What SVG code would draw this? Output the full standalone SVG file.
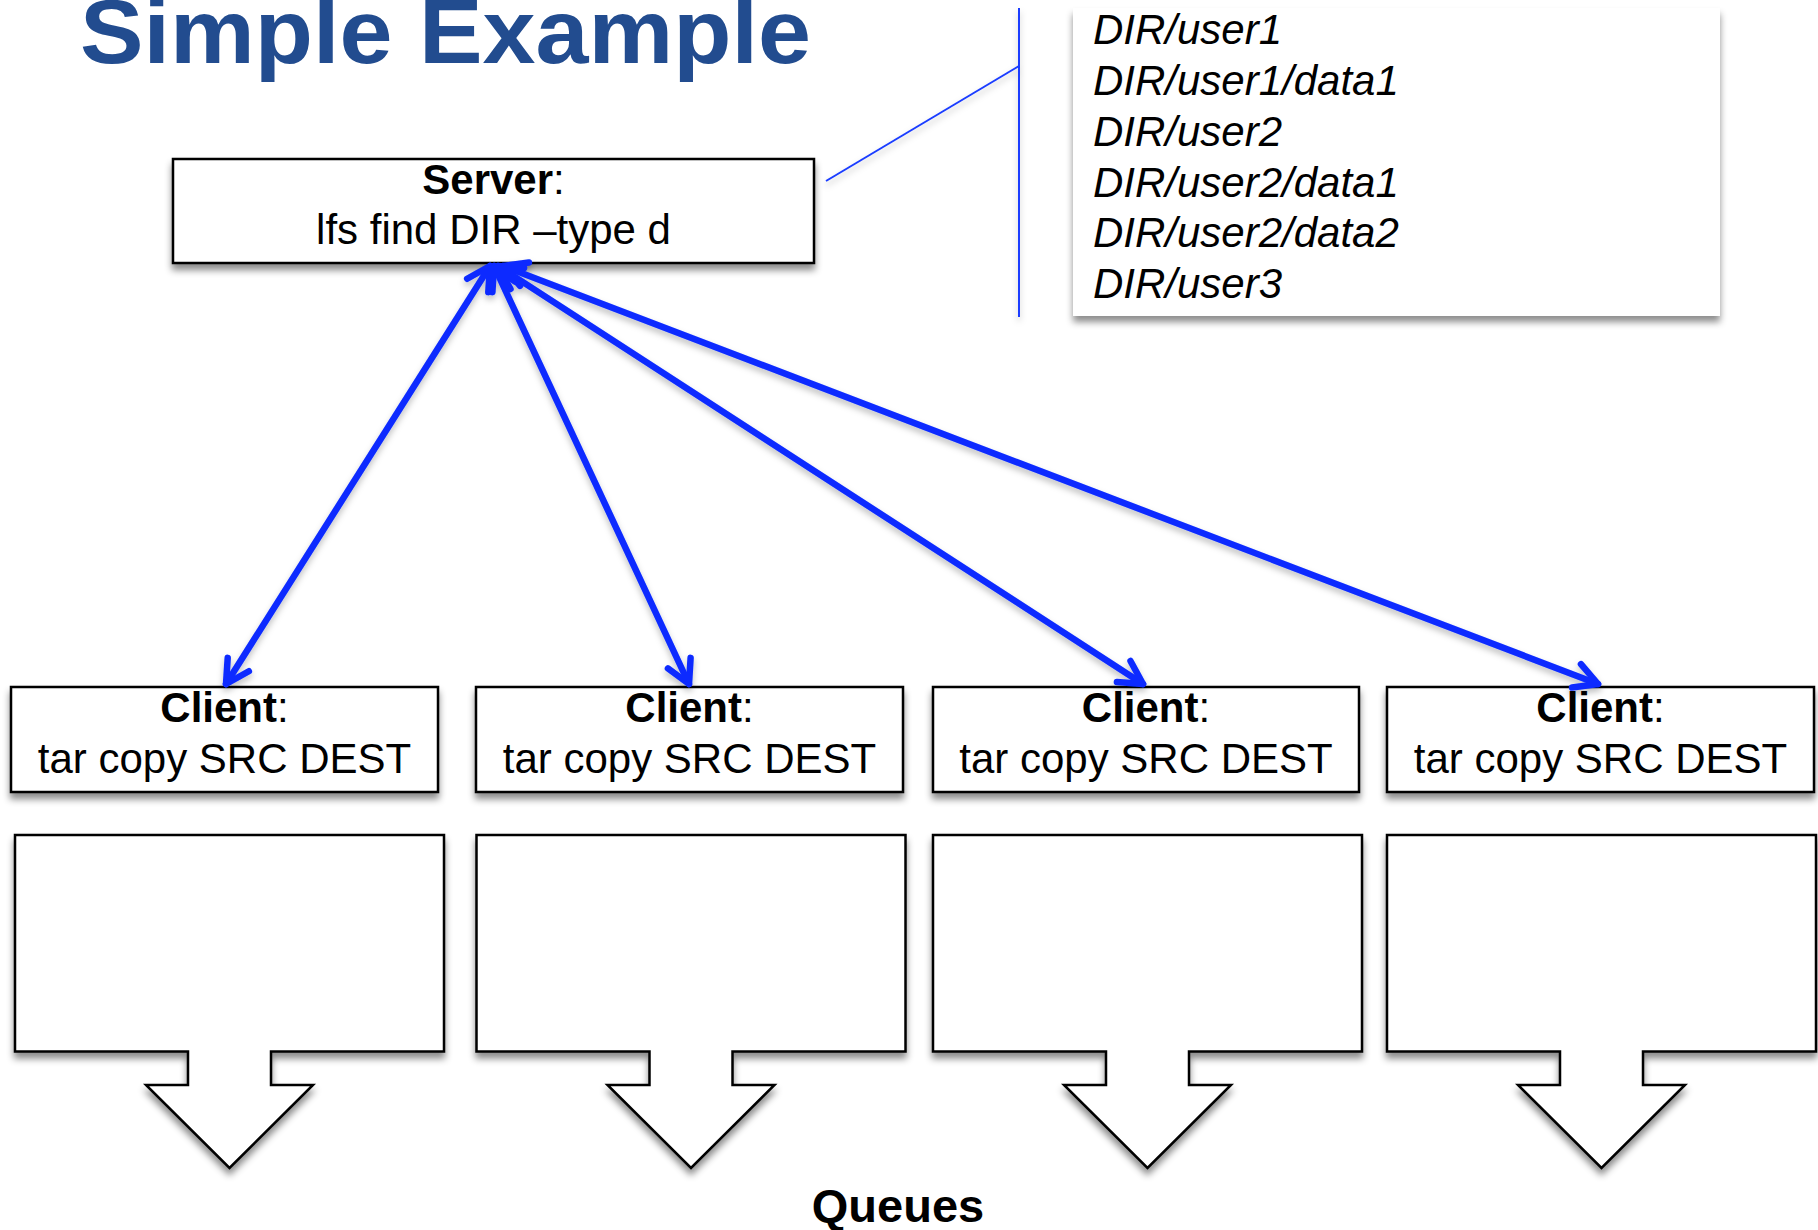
<svg xmlns="http://www.w3.org/2000/svg" width="1818" height="1230" viewBox="0 0 1818 1230">
<defs>
<filter id="sh" x="-10%" y="-10%" width="120%" height="130%">
<feDropShadow dx="0" dy="6" stdDeviation="3.5" flood-color="#000" flood-opacity="0.45"/>
</filter>
<filter id="shl" x="-10%" y="-10%" width="120%" height="130%">
<feDropShadow dx="0" dy="4" stdDeviation="3" flood-color="#000" flood-opacity="0.25"/>
</filter>
<marker id="ah" viewBox="-28 -17 34 34" markerWidth="34" markerHeight="34" refX="0" refY="0" orient="auto-start-reverse" markerUnits="userSpaceOnUse">
<path d="M -23 -12.5 L 0 0 L -23 12.5" fill="none" stroke="#0a2cff" stroke-width="6.5" stroke-linecap="round" stroke-linejoin="round"/>
</marker>
</defs>
<style>
.box{fill:#fff;stroke:#000;stroke-width:2.5;filter:url(#sh)}
.q{fill:#fff;stroke:#000;stroke-width:2.5;stroke-linejoin:miter;filter:url(#sh)}
.t{font-family:"Liberation Sans",Arial,sans-serif;font-size:42px;fill:#000;text-anchor:middle}
.b{font-weight:bold}
.it{font-family:"Liberation Sans",Arial,sans-serif;font-size:42px;font-style:italic;fill:#000}
.arr{stroke:#0a2cff;stroke-width:6.5;fill:none;stroke-linecap:round;marker-start:url(#ah);marker-end:url(#ah)}
.thin{stroke:#1a3cff;stroke-width:2;fill:none}
</style>
<rect width="1818" height="1230" fill="#fff"/>
<text x="80" y="63" font-family="'Liberation Sans',Arial,sans-serif" font-size="90" font-weight="bold" fill="#224c8f" textLength="731" lengthAdjust="spacingAndGlyphs">Simple Example</text>

<g id="dirlist">
<rect x="1073" y="8" width="647" height="308" fill="#fff" filter="url(#sh)"/>
<text class="it" x="1093" y="44">DIR/user1</text>
<text class="it" x="1093" y="95">DIR/user1/data1</text>
<text class="it" x="1093" y="146">DIR/user2</text>
<text class="it" x="1093" y="196.5">DIR/user2/data1</text>
<text class="it" x="1093" y="247">DIR/user2/data2</text>
<text class="it" x="1093" y="298">DIR/user3</text>
</g>

<g id="server">
<rect class="box" x="173" y="159" width="641" height="104"/>
<text class="t" x="493.5" y="194"><tspan class="b">Server</tspan>:</text>
<text class="t" x="493.5" y="244">lfs find DIR –type d</text>
</g>

<g id="client1">
<rect class="box" x="11" y="687" width="427" height="105"/>
<text class="t" x="224.5" y="722"><tspan class="b">Client</tspan>:</text>
<text class="t" x="224.5" y="773">tar copy SRC DEST</text>
</g>
<g id="client2">
<rect class="box" x="476" y="687" width="427" height="105"/>
<text class="t" x="689.5" y="722"><tspan class="b">Client</tspan>:</text>
<text class="t" x="689.5" y="773">tar copy SRC DEST</text>
</g>
<g id="client3">
<rect class="box" x="933" y="687" width="426" height="105"/>
<text class="t" x="1146" y="722"><tspan class="b">Client</tspan>:</text>
<text class="t" x="1146" y="773">tar copy SRC DEST</text>
</g>
<g id="client4">
<rect class="box" x="1387" y="687" width="427" height="105"/>
<text class="t" x="1600.5" y="722"><tspan class="b">Client</tspan>:</text>
<text class="t" x="1600.5" y="773">tar copy SRC DEST</text>
</g>

<g id="queue1"><path class="q" d="M15 835 H444 V1051.5 H271 V1085 H313 L229.5 1168 L146 1085 H188 V1051.5 H15 Z"/></g>
<g id="queue2"><path class="q" d="M476.5 835 H905.5 V1051.5 H732.5 V1085 H774.5 L691 1168 L607.5 1085 H649.5 V1051.5 H476.5 Z"/></g>
<g id="queue3"><path class="q" d="M933 835 H1362 V1051.5 H1189 V1085 H1231 L1147.5 1168 L1064 1085 H1106 V1051.5 H933 Z"/></g>
<g id="queue4"><path class="q" d="M1387 835 H1816 V1051.5 H1643 V1085 H1685 L1601.5 1168 L1518 1085 H1560 V1051.5 H1387 Z"/></g>

<text x="898" y="1222" font-family="'Liberation Sans',Arial,sans-serif" font-size="47" font-weight="bold" text-anchor="middle" fill="#000">Queues</text>

<g id="connectors">
<g filter="url(#shl)">
<line class="thin" x1="1019" y1="8" x2="1019" y2="317"/>
<line class="thin" x1="826" y1="181" x2="1019" y2="66"/>
</g>
<g filter="url(#shl)">
<line class="arr" x1="490" y1="266" x2="226" y2="684"/>
<line class="arr" x1="494" y1="266" x2="689" y2="684"/>
<line class="arr" x1="498" y1="266" x2="1143" y2="684"/>
<line class="arr" x1="503" y1="266" x2="1598" y2="684"/>
</g>
</g>
</svg>
